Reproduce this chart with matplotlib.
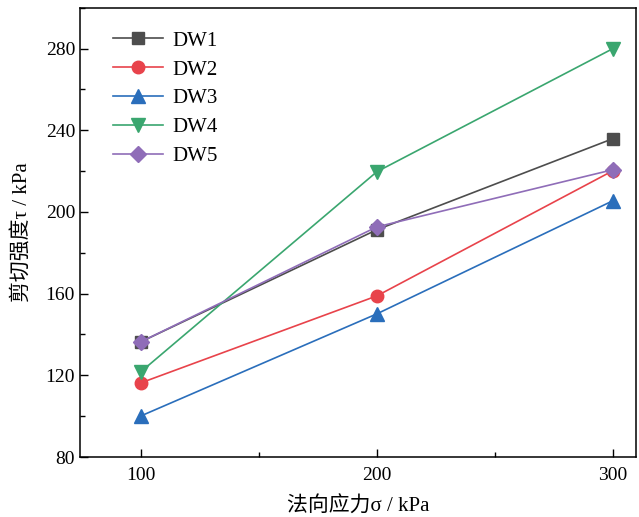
import numpy as np
import matplotlib.pyplot as plt
from matplotlib.ticker import MultipleLocator

plt.rcParams['font.family'] = ['Liberation Serif', 'Noto Sans CJK SC']

x = [100, 200, 300]
dw1 = [136.4, 191.3, 235.9]
dw2 = [116.3, 158.9, 220.2]
dw3 = [100.1, 150.1, 205.5]
dw4 = [121.7, 219.7, 280.0]
dw5 = [136.4, 192.7, 220.7]
names = ['DW1', 'DW2', 'DW3', 'DW4', 'DW5']

colors = ['#4d4d4d', '#e8434b', '#2a6ebb', '#3aa66f', '#8f6db8']
markers = ['s', 'o', '^', 'v', 'D']
sizes = [8, 9, 10, 10, 8]

fig = plt.figure(figsize=(6.39, 5.17), dpi=100)
ax = fig.add_axes([0.125, 0.116, 0.87, 0.869])

for y, n, c, m, s in zip([dw1, dw2, dw3, dw4, dw5], names, colors, markers, sizes):
    ax.plot(x, y, color=c, marker=m, markersize=s, linewidth=1.2, label=n)

ax.set_xlim(74.2, 309.7)
ax.set_ylim(80, 300)
ax.set_xticks([100, 200, 300])
ax.xaxis.set_minor_locator(MultipleLocator(50))
ax.set_yticks([80, 120, 160, 200, 240, 280])
ax.yaxis.set_minor_locator(MultipleLocator(20))
ax.tick_params(which='both', direction='in', labelsize=14)
ax.tick_params(which='major', length=6, width=1)
ax.tick_params(which='minor', length=3.5, width=1)
ax.tick_params(axis='x', pad=7)
for sp in ax.spines.values():
    sp.set_linewidth(1.1)

ax.set_xlabel('法向应力σ / kPa', fontsize=15, labelpad=9)
ax.set_ylabel('剪切强度τ / kPa', fontsize=15, labelpad=10)

ax.legend(loc='upper left', frameon=False, fontsize=15, handlelength=2.4,
          labelspacing=0.45, handletextpad=0.45, borderaxespad=0.5,
          bbox_to_anchor=(0.025, 0.99))

plt.savefig('out.png', dpi=100)
